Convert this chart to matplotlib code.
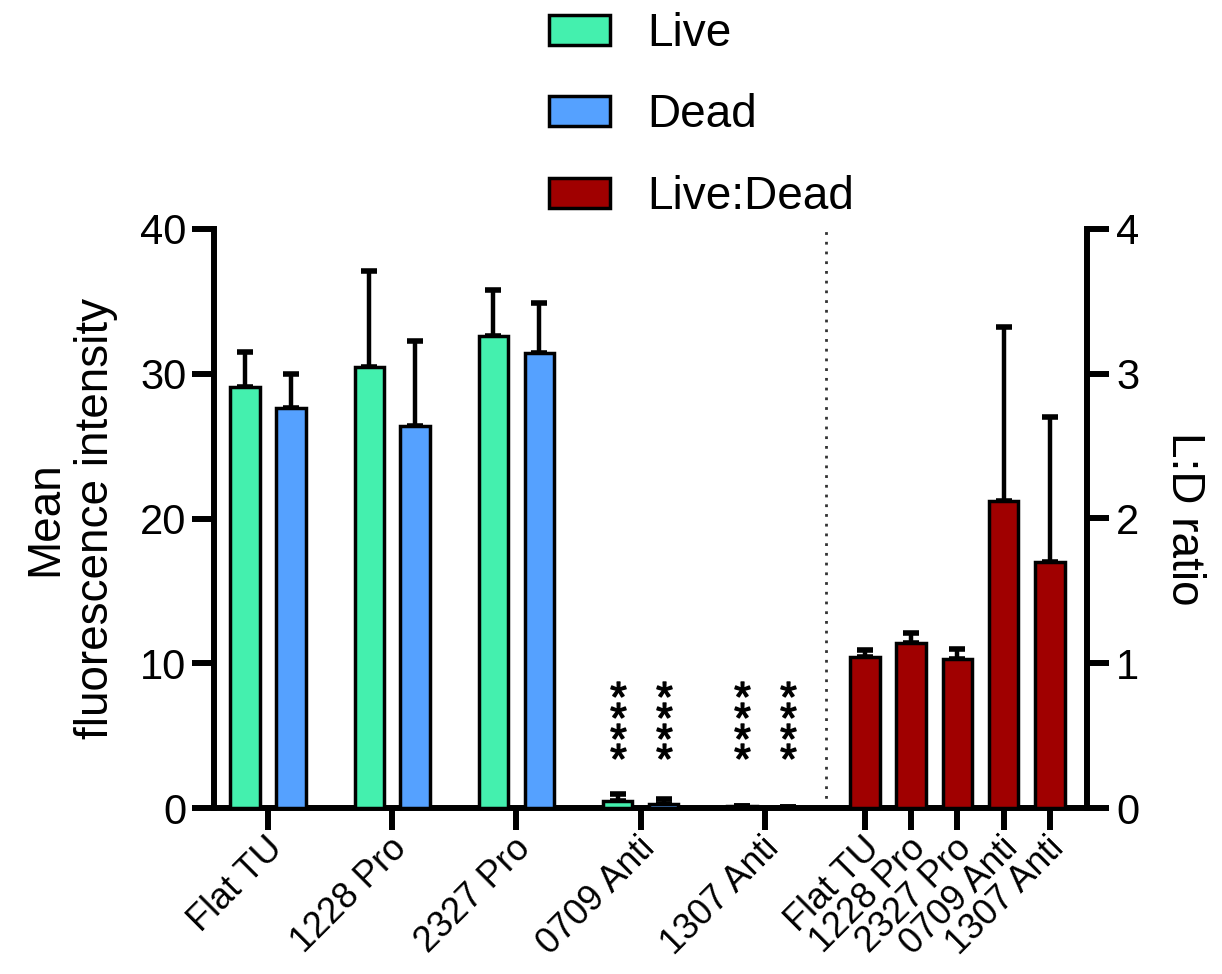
import numpy as np
import matplotlib
matplotlib.use("Agg")
import matplotlib.pyplot as plt
import matplotlib.transforms as mtransforms

plt.rcParams['font.family'] = ['Liberation Sans', 'DejaVu Sans']
plt.rcParams['mathtext.fontset'] = 'custom'
plt.rcParams['mathtext.rm'] = 'Liberation Sans'
plt.rcParams['mathtext.it'] = 'Liberation Sans'

# ---- data ----
categories = ["Flat TU", "1228 Pro", "2327 Pro", "0709 Anti", "1307 Anti"]
live_mean = [29.1, 30.5, 32.6, 0.5, 0.12]
live_err = [2.4, 6.6, 3.2, 0.47, 0.05]
dead_mean = [27.65, 26.4, 31.4, 0.28, 0.07]
dead_err = [2.35, 5.85, 3.5, 0.32, 0.03]
ratio_mean = [1.04, 1.14, 1.03, 2.12, 1.70]
ratio_err = [0.05, 0.07, 0.07, 1.20, 1.00]
significant = [False, False, False, True, True]

live_color = "#44F0AE"
dead_color = "#55A1FF"
ratio_color = "#A00000"

fig = plt.figure(figsize=(12.22, 9.74), dpi=100)
ax = fig.add_axes([214/1222, 1-808/974, (1087-214)/1222, (808-229)/974])
ax2 = ax.twinx()

g = np.arange(len(categories))
off = 0.185
w = 0.237
live_x = g - off
dead_x = g + off
ratio_x = 4.805 + 0.372*np.arange(len(categories))

bar_kw = dict(width=w, edgecolor="black", linewidth=2.5, zorder=3)
err_kw = dict(elinewidth=3.2, capsize=5.6, capthick=4, ecolor="black", zorder=2)

ax.bar(live_x, live_mean, color=live_color, label="Live", **bar_kw)
ax.errorbar(live_x, live_mean, yerr=[np.zeros(5), live_err], fmt="none", **err_kw)
ax.bar(dead_x, dead_mean, color=dead_color, label="Dead", **bar_kw)
ax.errorbar(dead_x, dead_mean, yerr=[np.zeros(5), dead_err], fmt="none", **err_kw)
ax2.bar(ratio_x, ratio_mean, color=ratio_color, label="Live:Dead", **bar_kw)
ax2.errorbar(ratio_x, ratio_mean, yerr=[np.zeros(5), ratio_err], fmt="none", **err_kw)

# significance asterisks
star_levels = [3.95, 5.35, 6.8, 8.2]
for i, s in enumerate(significant):
    if s:
        for xx in (live_x[i], dead_x[i]):
            ax.plot([xx]*len(star_levels), star_levels, linestyle="none",
                    marker=r"$*$", markersize=11, color="black", zorder=4)

ax.axvline(4.491, ymin=0, ymax=1, color="#333333", linestyle=(0, (1, 2.5)), lw=2, zorder=1)

ax.set_xlim(-0.4346, 6.592)
ax.set_ylim(0, 40)
ax2.set_ylim(0, 4)
ax.set_yticks([0, 10, 20, 30, 40])
ax2.set_yticks([0, 1, 2, 3, 4])

for a in (ax, ax2):
    for sp in a.spines.values():
        sp.set_linewidth(4.3)
    a.spines["top"].set_visible(False)
ax.spines["right"].set_visible(False)
ax2.spines["left"].set_visible(False)
ax2.spines["bottom"].set_visible(False)

ax.tick_params(axis="both", length=16, width=4.3, labelsize=30, pad=4)
ax.tick_params(axis="x", labelsize=26, pad=12)
ax2.tick_params(axis="y", length=16, width=4.3, labelsize=30, pad=5)

ax.set_xticks(list(g) + list(ratio_x))
ax.set_xticklabels(categories + categories, rotation=45, ha="right",
                   va="center", rotation_mode="anchor", fontsize=26)
shift = mtransforms.ScaledTranslation(9/100, 4/100, fig.dpi_scale_trans)
for lab in ax.xaxis.get_majorticklabels():
    lab.set_transform(lab.get_transform() + shift)

ax.set_ylabel("Mean\nfluorescence intensity", fontsize=33, labelpad=16, linespacing=1.2)
ax2.set_ylabel("L:D ratio", fontsize=33, rotation=270, labelpad=48)

h1, l1 = ax.get_legend_handles_labels()
h2, l2 = ax2.get_legend_handles_labels()
fig.legend(h1 + h2, l1 + l2, loc="upper left", bbox_to_anchor=(549/1222, 0.988),
           frameon=False, fontsize=33, handlelength=1.33, handleheight=0.63,
           handletextpad=0.82, labelspacing=0.82, borderpad=0, borderaxespad=0)

fig.savefig("out.png", dpi=100)
